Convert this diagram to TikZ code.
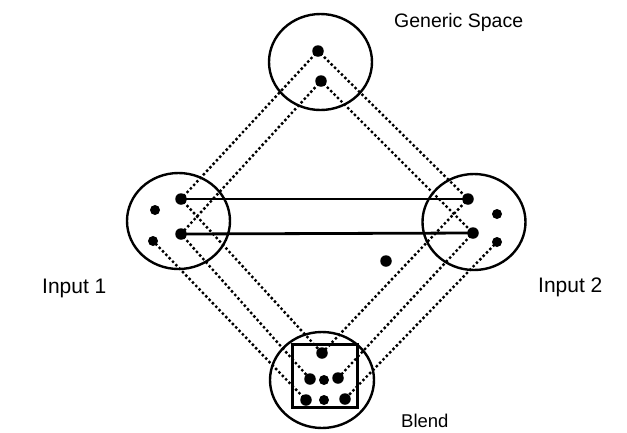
\documentclass[tikz,border=0pt]{standalone}
\usepackage{fontspec}
\setmainfont{Liberation Sans}
\begin{document}
\begin{tikzpicture}[x=1pt,y=-1pt,
  bigdot/.style={circle,fill,inner sep=0pt,minimum size=11.5pt},
  smalldot/.style={circle,fill,inner sep=0pt,minimum size=10pt},
  mapline/.style={line width=3.4pt,dash pattern=on 0pt off 4.8pt,line cap=round},
  linkline/.style={line width=2.8pt},
  ring/.style={line width=2.4pt},
  lbl/.style={anchor=base west,inner sep=0pt}]
\useasboundingbox (0,0) rectangle (627,432);
% circles
\draw[ring] (320.5,62) ellipse [x radius=51.5, y radius=48];
\draw[ring] (178.5,221) ellipse [x radius=51.5, y radius=48];
\draw[ring] (474,222) ellipse [x radius=51.5, y radius=48];
\draw[ring] (322,380) ellipse [x radius=52, y radius=48];
\draw[line width=3pt] (292,344) rectangle (357,407);
% dots
\node[bigdot] (g1) at (318,51) {};
\node[bigdot] (g2) at (321,81) {};
\node[bigdot] (a1) at (181,199) {};
\node[smalldot] (a2) at (155,210) {};
\node[bigdot] (a3) at (181,234) {};
\node[smalldot] (a4) at (153,241) {};
\node[bigdot] (b1) at (468,199) {};
\node[smalldot] (b2) at (497,214) {};
\node[bigdot] (b3) at (473,233) {};
\node[smalldot] (b4) at (497,242) {};
\node[bigdot] (c1) at (322,353) {};
\node[bigdot] (c2) at (310,379) {};
\node[smalldot] (c3) at (324,380) {};
\node[bigdot] (c4) at (338,378) {};
\node[bigdot] (c5) at (306,400) {};
\node[smalldot] (c6) at (324,400) {};
\node[bigdot] (c7) at (345,399) {};
\node[bigdot] (s) at (386,261) {};
% solid links
\draw[linkline] (a1.center) -- (b1.center);
\draw[linkline] (a3.center) -- (b3.center);
% dotted mappings
\draw[mapline] (g1.center) -- (a1.center);
\draw[mapline] (g1.center) -- (b1.center);
\draw[mapline] (g2.center) -- (a3.center);
\draw[mapline] (g2.center) -- (b3.center);
\draw[mapline] (a1.center) -- (c1.center);
\draw[mapline] (b1.center) -- (c1.center);
\draw[mapline] (a3.center) -- (c2.center);
\draw[mapline] (b3.center) -- (c4.center);
\draw[mapline] (a4.center) -- (c5.center);
\draw[mapline] (b4.center) -- (c7.center);
% labels
\node[lbl,font=\fontsize{19.5}{22}\selectfont] (gl) at (394,27) {Generic Space};
\node[lbl,font=\fontsize{21}{24}\selectfont] (i1) at (42,293) {Input 1};
\node[lbl,font=\fontsize{21}{24}\selectfont] (i2) at (538,292) {Input 2};
\node[lbl,font=\fontsize{18.5}{21}\selectfont] (bl) at (401,427) {Blend};
\end{tikzpicture}
\end{document}
